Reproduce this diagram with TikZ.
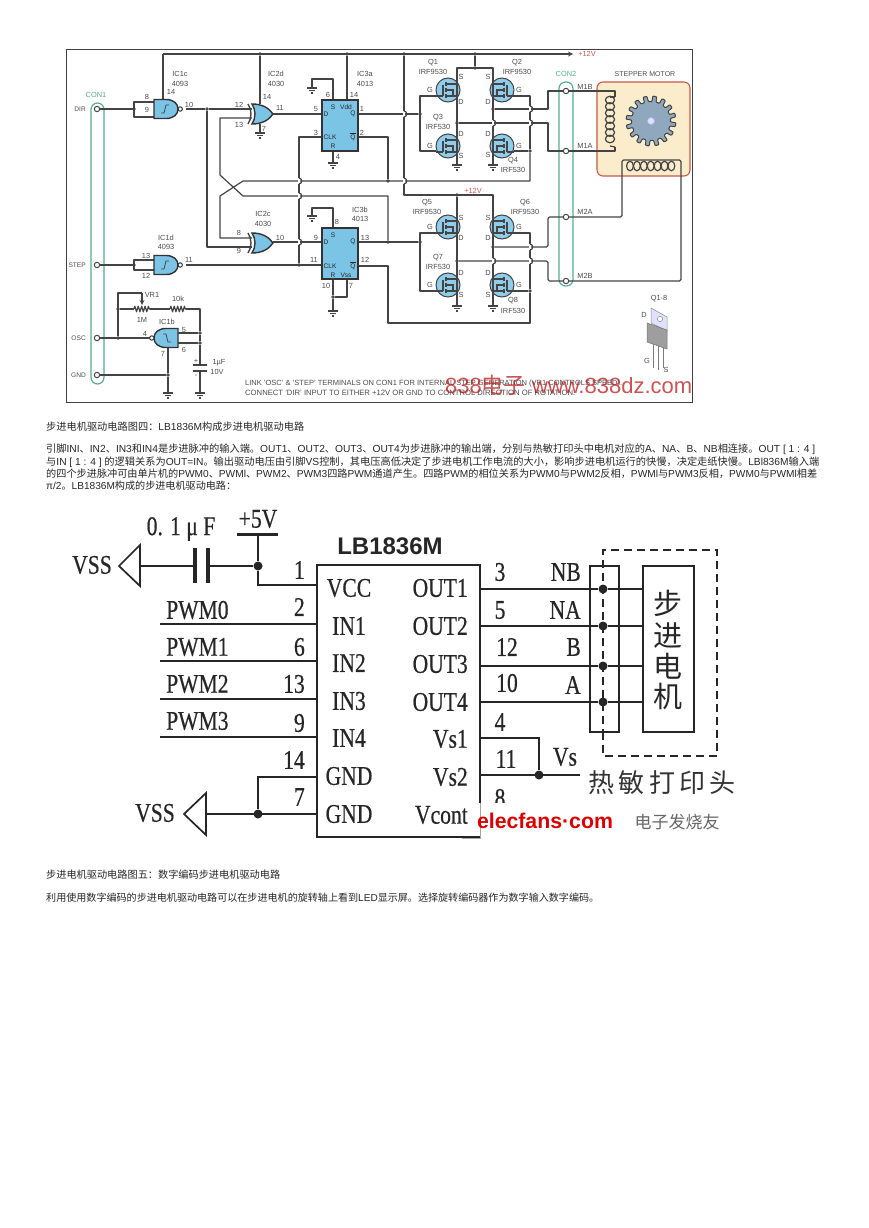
\documentclass[tikz,border=0pt]{standalone}
\usepackage{graphicx}
\usepackage{fontspec}
\setmainfont{Liberation Sans}
\newfontfamily\cjk{Noto Sans CJK SC}
\newfontfamily\icfont[FakeStretch=.8,FakeBold=.5]{Liberation Serif}
\newcommand{\zh}[1]{{\cjk #1}}
\usetikzlibrary{arrows, decorations.pathmorphing}
\definecolor{wirec}{HTML}{444444}
\definecolor{bluec}{HTML}{7CC4E6}
\definecolor{greenc}{HTML}{55AE8E}
\definecolor{redc}{HTML}{C8584C}
\tikzstyle{wire} = [draw=wirec, line width=1.2pt, line join=round]
\tikzstyle{thinw} = [draw=black!85, line width=1.3pt]
\tikzstyle{dotn} = [circle, fill=wirec, inner sep=0pt, minimum size=3.6pt]
\tikzstyle{bigdot} = [circle, fill=black!85, inner sep=0pt, minimum size=9pt]
\tikzstyle{term} = [circle, draw=wirec, fill=white, line width=1pt, inner sep=0pt, minimum size=5.4pt]
\tikzstyle{lbl} = [text=black!70, inner sep=0pt, font=\fontsize{7.4}{8}\selectfont]
\tikzstyle{inlbl} = [text=black!85, inner sep=0pt, font=\fontsize{6.6}{8}\selectfont]
\tikzstyle{icl} = [text=black!85, inner sep=0pt, font=\icfont\fontsize{27}{27}\selectfont]
\tikzstyle{parline} = [anchor=west, inner sep=0pt, text=black!85, font=\fontsize{10}{12}\selectfont]
\tikzstyle{slot} = [draw=greenc, line width=1.2pt, rounded corners=6.5pt]
\tikzstyle{chip} = [draw=black!80, fill=bluec, line width=1.4pt]
% ground symbol: name, x, y
\newcommand{\gnd}[3]{
	\coordinate (#1) at (#2,#3);
	\draw [wire] (#2-5,#3) -- (#2+5,#3) (#2-3,#3+2.5) -- (#2+3,#3+2.5) (#2-1,#3+5) -- (#2+1,#3+5);
}
% schmitt nand: x, y, direction
\newcommand{\nandg}[3]{
	\begin{scope}[shift={(#1,#2)}, xscale=#3]
		\draw [chip] (-12,-9.5) -- (0,-9.5) .. controls (8,-9.5) and (12,-5) .. (12,0) .. controls (12,5) and (8,9.5) .. (0,9.5) -- (-12,9.5) -- cycle;
		\draw [chip, fill=white, line width=1pt] (14.2,0) circle (2.2);
		\draw [wirec, line width=.8pt] (-5,4) -- (-2,4) -- (0,-4) -- (3,-4);
	\end{scope}
}
% xor gate: x, y
\newcommand{\xorg}[2]{
	\begin{scope}[shift={(#1,#2)}]
		\draw [chip] (3,-10) .. controls (13,-10) and (20,-6) .. (24,0) .. controls (20,6) and (13,10) .. (3,10) .. controls (7,4) and (7,-4) .. (3,-10) -- cycle;
		\draw [wirec, line width=1.4pt] (-1,-10) .. controls (3,-4) and (3,4) .. (-1,10);
	\end{scope}
}
% mosfet: x, y, direction
\newcommand{\mosf}[3]{
	\begin{scope}[shift={(#1,#2)}, xscale=#3]
		\draw [draw=wirec, fill=bluec!85, line width=1pt] (0,0) circle (12);
		\draw [wirec, line width=1.1pt] (-5,-5) -- (-5,6) (-12,6) -- (-5,6);
		\draw [wirec, line width=1.4pt] (-2,-8) -- (-2,-4) (-2,-2) -- (-2,2) (-2,4) -- (-2,8);
		\draw [wirec, line width=1.1pt] (-2,-6) -- (9,-6) (-2,6) -- (9,6) (-2,0) -- (5,0) -- (5,6);
	\end{scope}
}
% bump of a vertical wire over a horizontal one: x, y
\newcommand{\jump}[2]{
	\fill [white] (#1-1,#2-3) rectangle (#1+1,#2+3);
	\draw [wire] (#1,#2-3) .. controls (#1+3.5,#2-3) and (#1+3.5,#2+3) .. (#1,#2+3);
}
\begin{document}
\begin{tikzpicture}[x=1pt, y=-1pt]
	\useasboundingbox (0,0) rectangle (868,1228);
	\draw [draw=black!75, line width=1pt] (66,50) rectangle (692,402);

	% motor box and gear
	\definecolor{motorc}{HTML}{FBEDCB}
	\definecolor{gearc}{HTML}{8FA8BE}
	\node (motor) [draw=redc, fill=motorc, line width=1.1pt, rounded corners=6pt, minimum width=93pt, minimum height=94pt, inner sep=0pt] at (643.5,129) {};
	\node (motorl) [lbl, font=\fontsize{7}{8}\selectfont] at (645,74) {STEPPER MOTOR};
	\begin{scope}[shift={(651,121)}]
		\draw [draw=wirec, fill=gearc, line width=1pt, rounded corners=.8pt] (0:19.5) \foreach \a in {0,22.5,...,337.5} { -- (\a+3:19.5) -- (\a+4:25) -- (\a+13:25) -- (\a+15:19.5) -- (\a+22.5:19.5) } -- cycle;
		\draw [draw=white!70!blue, fill=blue!12, line width=.6pt] (0,0) circle (3.5);
	\end{scope}

	% connectors
	\draw [slot] (91,103) -- (91,384) -- (104,384) -- (104,103) -- cycle;
	\draw [slot] (559,82) -- (559,286) -- (573,286) -- (573,82) -- cycle;
	\node (con1) [lbl, text=greenc] at (96,95) {CON1};
	\node (con2) [lbl, text=greenc] at (566,74) {CON2};

	% mosfets
	\mosf{448}{90}{1} \mosf{502}{90}{-1} \mosf{448}{146}{1} \mosf{502}{146}{-1}
	\mosf{448}{227}{1} \mosf{502}{227}{-1} \mosf{448}{285}{1} \mosf{502}{285}{-1}

	% terminals and points
	\foreach \n/\x/\y in {rl/163/54, rr/573/54, j1/134/109, a8/154/102, a9/154/117, aout/186/109, x12/252/109, x9/252/247, xo/273/114, fd/322/114, q1o/358/114, nq1/358/137, ck1/322/137, ck1b/299/137, x13/252/118, c1/220/175, c2/243/196, x8/252/238, c3/220/196, c4/243/181, xo2/273/242, fd2/322/242, j2/134/265, b13/154/260, b12/154/270, bout/186/265, ck2/322/265, q2o/358/242, nq2/358/266, c5/388/323, m1/548/91, m2/548/151, m3/548/217, m4/548/281, cl1/615/97, cl2/615/147, cl3/622/160, cl4/681/160, jv/530/181, ju/420/96}
		\coordinate (\n) at (\x,\y);
	\foreach \n/\x/\y in {jra/260/54, jrb/347/54, jrc/404/54, jrd/475/54, j207/207/109, jg1/420/114, jq/388/181, jck/299/265, js/333/297, jq2/388/242, jg2/420/242, jt/457/195, jw/530/151, jx/530/291, jq3/493/109, jq4/457/123, jq5/493/247, jq6/457/261, jr1/118/338, jr2/118/309, jr3/200/333, jr4/200/343, jr5/168/375, jtop/475/68, jb1/134/109, jb2/134/265}
		\node (\n) [dotn] at (\x,\y) {};
	\node (tdir) [term] at (97,109) {};
	\node (tstep) [term] at (97,265) {};
	\node (tosc) [term] at (97,338) {};
	\node (tgnd) [term] at (97,375) {};
	\node (tm1b) [term] at (566,91) {};
	\node (tm1a) [term] at (566,151) {};
	\node (tm2a) [term] at (566,217) {};
	\node (tm2b) [term] at (566,281) {};

	% grounds
	\gnd{g1}{260}{133} \gnd{g2}{312}{88} \gnd{g3}{333}{163} \gnd{g4}{312}{216} \gnd{g5}{333}{311}
	\gnd{g6}{457}{165} \gnd{g7}{493}{165} \gnd{g8}{457}{306} \gnd{g9}{493}{306} \gnd{g10}{168}{393} \gnd{g11}{200}{393}

	% wires, upper part
	\draw [wire, -stealth] (rl) -- (rr);
	\draw [wire] (163,100) -- (rl);
	\draw [wire] (tdir) -- (j1) |- (a8);
	\draw [wire] (j1) |- (a9);
	\draw [wire] (aout) -- (j207) -- (x12);
	\draw [wire] (j207) |- (x9);
	\draw [wire] (xo) -- (fd);
	\draw [wire] (jra) -- (260,104);
	\draw [wire] (260,124) -- (g1);
	\draw [wire] (jrb) -- (347,100);
	\draw [wire] (333,100) |- (g2 |- 0,79) -- (g2);
	\draw [wire] (333,151) -- (g3);
	\draw [wire] (q1o) -- (jg1);
	\draw [wire] (nq1) -| (jq);
	\draw [wire] (ck1) -| (jck);
	\draw [wire] (x13) -| (c1) -- (c2) -| (jq2);
	\draw [wire] (x8) -| (c3) -- (c4) -| (jw);
	\draw [wire] (jw) -- (530,96) -- (514,96);
	\draw [wire] (xo2) -- (fd2);
	\draw [wire] (tstep) -- (j2) |- (b13);
	\draw [wire] (j2) |- (b12);
	\draw [wire] (bout) -- (ck2);
	\draw [wire] (333,228) |- (g4 |- 0,208) -- (g4);
	\draw [wire] (333,279) -- (js) -- (g5);
	\draw [wire] (347,279) |- (js);
	\draw [wire] (q2o) -- (jg2);
	\draw [wire] (nq2) -| (c5) -| (jx) -- (530,233) -- (514,233);
	\draw [wire] (jrc) -- (404,195) -- (493,195) -- (g9);
	\draw [wire] (jt) -- (g8);
	\draw [wire] (jrd) -- (jtop);
	\draw [wire] (g6) |- (493,68) -- (g7);
	\draw [wire] (436,96) -- (ju) -- (420,151) -- (436,151);
	\draw [wire] (jw) -- (514,151);
	\draw [wire] (436,233) -- (420,233) -- (420,291) -- (436,291);
	\draw [wire] (jx) -- (514,291);
	\draw [wire] (jq3) -| (m1) -- (tm1b) -| (cl1);
	\draw [wire] (jq4) -| (m2) -- (tm1a) -| (cl2);
	\draw [wire, rounded corners=1.5pt] (jq5) -| (m3) -- (tm2a) -| (cl3) -- (cl4) |- (tm2b) -- (m4) |- (jq6);
	\foreach \y in {0,...,6}
		\draw [wire] (610,100+\y*6.5) ellipse (4.6 and 3.8);
	\draw [wire] (cl1) -- (610,97);
	\draw [wire] (cl2) -- (610,146);
	\foreach \x in {0,...,6}
		\draw [wire] (630+\x*6.9,166) ellipse (3.4 and 4.8);

	% jumps
	\jump{404}{114} \jump{404}{181} \jump{299}{181} \jump{299}{196} \jump{299}{242}
	\jump{530}{109} \jump{530}{123} \jump{493}{123} \jump{530}{247} \jump{530}{261} \jump{493}{261}

	% wires, oscillator
	\draw [wire] (tosc) -- (150,338);
	\draw [wire] (jr1) |- (142,293);
	\draw [wire, -stealth] (142,293) -- (142,305);
	\draw [wire] (jr2) -- (jr1);
	\draw [wire] (jr2) -- (134,309);
	\draw [wire, decorate, decoration={zigzag, amplitude=2.8pt, segment length=3.4pt}] (134,309) -- (150,309);
	\draw [wire] (150,309) -- (170,309);
	\draw [wire, decorate, decoration={zigzag, amplitude=2.8pt, segment length=3.4pt}] (170,309) -- (186,309);
	\draw [wire] (186,309) -| (jr3) -- (jr4) -- (200,365);
	\draw [wire] (200,371) -- (g11);
	\draw [wire, line width=2.4pt] (193,365) -- (207,365) (193,371) -- (207,371);
	\draw [wire] (jr3) -- (178,333);
	\draw [wire] (jr4) -- (178,343);
	\draw [wire] (168,348) -- (jr5) -- (g10);
	\draw [wire] (tgnd) -- (jr5);

	% chips
	\nandg{166}{109}{1} \nandg{166}{265}{1} \nandg{166}{338}{-1}
	\xorg{249}{114} \xorg{249}{243}
	\node (ic3a) [chip, inner sep=0pt, minimum width=36pt, minimum height=51pt] at (340,125.5) {};
	\node (ic3b) [chip, inner sep=0pt, minimum width=36pt, minimum height=51pt] at (340,253.5) {};

	% labels
	\foreach \x/\y/\t [count=\i] in {180/74/IC1c, 180/84/4093, 171/92/14, 147/97/8, 147/110/9, 189/105/10, 166/238/IC1d, 166/247/4093, 146/256/13, 146/276/12, 189/260/11, 167/322/IC1b, 184/330/5, 184/350/6, 163/354/7, 145/334/4, 152/295/VR1, 142/320/1M, 178/299/10k, 219/363/1µF, 217/372/10V, 196/361/+, 196/376/-, 276/74/IC2d, 276/84/4030, 267/97/14, 239/105/12, 239/125/13, 280/108/11, 264/129/7, 263/214/IC2c, 263/224/4030, 239/233/8, 239/251/9, 280/238/10, 365/74/IC3a, 365/84/4013, 328/95/6, 354/95/14, 316/109/5, 316/133/3, 362/109/1, 362/133/2, 338/157/4, 360/210/IC3b, 360/219/4013, 337/222/8, 316/238/9, 314/260/11, 365/238/13, 365/260/12, 326/286/10, 351/286/7}
		\node (pl\i) [lbl] at (\x,\y) {\t};
	\foreach \x/\y/\t [count=\i] in {326/114/D, 333/107/S, 346/107/Vdd, 353/114/Q, 330/137/CLK, 353/137/{$\overline{\mbox{Q}}$}, 333/146/R, 326/242/D, 333/235/S, 353/242/Q, 330/266/CLK, 353/266/{$\overline{\mbox{Q}}$}, 333/275/R, 346/275/Vss}
		\node (il\i) [inlbl] at (\x,\y) {\t};
	\foreach \x/\y/\t [count=\i] in {433/63/Q1, 433/72/IRF9530, 517/63/Q2, 517/72/IRF9530, 438/118/Q3, 438/127/IRF530, 513/161/Q4, 513/170/IRF530, 427/203/Q5, 427/212/IRF9530, 525/203/Q6, 525/212/IRF9530, 438/258/Q7, 438/267/IRF530, 513/301/Q8, 513/311/IRF530, 430/90/G, 519/90/G, 430/146/G, 519/146/G, 430/227/G, 519/227/G, 430/285/G, 519/285/G, 461/77/S, 461/102/D, 488/77/S, 488/102/D, 461/134/D, 461/156/S, 488/134/D, 488/155/S, 461/218/S, 461/238/D, 488/218/S, 488/238/D, 461/273/D, 461/295/S, 488/273/D, 488/295/S, 585/87/M1B, 585/146/M1A, 585/212/M2A, 585/276/M2B, 659/299/Q1-8, 644/315/D, 647/361/G, 666/370/S}
		\node (ql\i) [lbl] at (\x,\y) {\t};
	\foreach \y/\t [count=\i] in {109/DIR, 265/STEP, 338/OSC, 375/GND}
		\node (tl\i) [lbl, anchor=east, font=\fontsize{6.6}{8}\selectfont] at (86,\y) {\t};
	\node (v12a) [lbl, text=redc] at (587,54) {+12V};
	\node (v12b) [lbl, text=redc] at (473,191) {+12V};

	% Q1-8 package
	\draw [draw=wirec!70, line width=1pt] (653,342) -- (653,368) (658,345) -- (658,370) (663,347) -- (663,368);
	\draw [draw=black!45, fill=blue!12, line width=.5pt] (651,308) -- (667,317) -- (667,331) -- (651,323) -- cycle;
	\draw [draw=black!45, fill=white, line width=.5pt] (660,319) circle (2.6);
	\draw [draw=black!55, fill=black!38, line width=.5pt] (647,323) -- (667,330) -- (667,349) -- (647,342) -- cycle;

	% note and mark
	\node (note1) [lbl, anchor=west] at (245,384) {\resizebox{377pt}{!}{LINK 'OSC' \& 'STEP' TERMINALS ON CON1 FOR INTERNAL STEP GENERATION (VR1 CONTROLS SPEED).}};
	\node (note2) [lbl, anchor=west] at (245,393) {\resizebox{330pt}{!}{CONNECT 'DIR' INPUT TO EITHER +12V OR GND TO CONTROL DIRECTION OF ROTATION.}};
	\node (mark1) [anchor=west, inner sep=0pt, text=red!70!black!90, opacity=.75, font=\fontsize{22}{24}\selectfont] at (445,385) {\resizebox{247pt}{!}{838\zh{电子} www.838dz.com}};

	% text
	\node (cap4) [parline] at (46,427) {\resizebox{258pt}{!}{\zh{步进电机驱动电路图四：}LB1836M\zh{构成步进电机驱动电路}}};
	\node (para1) [parline] at (46,449) {\resizebox{769pt}{!}{\zh{引脚}INI\zh{、}IN2\zh{、}IN3\zh{和}IN4\zh{是步进脉冲的输入端。}OUT1\zh{、}OUT2\zh{、}OUT3\zh{、}OUT4\zh{为步进脉冲的输出端，分别与热敏打印头中电机对应的}A\zh{、}NA\zh{、}B\zh{、}NB\zh{相连接。}OUT [ 1 : 4 ]}};
	\node (para2) [parline] at (46,462) {\resizebox{773pt}{!}{\zh{与}IN [ 1 : 4 ] \zh{的逻辑关系为}OUT=IN\zh{。输出驱动电压由引脚}VS\zh{控制，其电压高低决定了步进电机工作电流的大小，影响步进电机运行的快慢，决定走纸快慢。}LBl836M\zh{输入端}}};
	\node (para3) [parline] at (46,474) {\resizebox{771pt}{!}{\zh{的四个步进脉冲可由单片机的}PWM0\zh{、}PWMl\zh{、}PWM2\zh{、}PWM3\zh{四路}PWM\zh{通道产生。四路}PWM\zh{的相位关系为}PWM0\zh{与}PWM2\zh{反相，}PWMl\zh{与}PWM3\zh{反相，}PWM0\zh{与}PWMl\zh{相差}}};
	\node (para4) [parline] at (46,486) {\resizebox{190pt}{!}{π/2\zh{。}LB1836M\zh{构成的步进电机驱动电路：}}};
	\node (cap5) [parline] at (46,875) {\resizebox{234pt}{!}{\zh{步进电机驱动电路图五：数字编码步进电机驱动电路}}};
	\node (para5) [parline] at (46,898) {\resizebox{553pt}{!}{\zh{利用使用数字编码的步进电机驱动电路可以在步进电机的旋转轴上看到}LED\zh{显示屏。选择旋转编码器作为数字输入数字编码。}}};

	% LB1836M
	\node (ic) [draw=black!85, line width=2.6pt, inner sep=0pt, minimum width=163pt, minimum height=272pt] at (398.5,701) {};
	\node (ictitle) [inner sep=0pt, text=black!85, font=\fontsize{24}{24}\selectfont] at (390,546) {\textbf{LB1836M}};
	\foreach \x/\y/\t [count=\i] in {349/588/VCC, 349/626/IN1, 349/663/IN2, 349/701/IN3, 349/738/IN4, 349/776/GND, 349/814/GND}
		\node (lp\i) [icl] at (\x,\y) {\t};
	\foreach \y/\t [count=\i] in {588/OUT1, 626/OUT2, 664/OUT3, 702/OUT4, 739/Vs1, 777/Vs2, 815/Vcont}
		\node (rp\i) [icl, anchor=east] at (468,\y) {\t};
	\foreach \y/\t [count=\i] in {570/1, 607/2, 647/6, 684/13, 723/9, 760/14, 797/7}
		\node (ln\i) [icl, anchor=east] at (305,\y) {\t};
	\foreach \x/\y/\t [count=\i] in {500/572/3, 500/610/5, 507/647/12, 507/683/10, 500/722/4, 506/759/11, 500/798/8}
		\node (rn\i) [icl] at (\x,\y) {\t};
	\foreach \y/\t [count=\i] in {610/PWM0, 647/PWM1, 684/PWM2, 721/PWM3}
		\node (pw\i) [icl, anchor=west] at (166,\y) {\t};
	\foreach \y/\t [count=\i] in {572/NB, 610/NA, 647/B, 685/A}
		\node (nm\i) [icl, anchor=east] at (581,\y) {\t};
	\node (vsl) [icl] at (565,757) {Vs};
	\foreach \y [count=\i] in {624,661,699,737}
		\coordinate (pwm\i) at (160,\y);
	\foreach \i in {1,...,4}
		\draw [thinw] (pwm\i) -- (pwm\i -| ic.west);
	\node (jvcc) [bigdot] at (258,566) {};
	\node (jgnd) [bigdot] at (258,814) {};
	\coordinate (v5) at (258,534);
	\coordinate (vcc) at (317,585);
	\coordinate (gnd1) at (317,777);
	\coordinate (gnd2) at (317,814);
	\coordinate (tri1) at (140,566);
	\coordinate (tri2) at (206,814);
	\coordinate (capa) at (195,566);
	\coordinate (capb) at (208,566);
	\draw [thinw, line width=3pt] (237,534) -- (278,534);
	\node (v5l) [icl] at (258,519) {+5V};
	\draw [thinw] (v5) -- (jvcc) |- (vcc);
	\draw [thinw] (jvcc) -- (capb);
	\draw [thinw] (capa) -- (tri1);
	\draw [thinw, line width=3.6pt] (195,548) -- (195,583) (208,548) -- (208,583);
	\node (capl) [icl] at (181,529) {0. 1 μ F};
	\draw [thinw, line width=1.7pt] (140,545) -- (119,566) -- (140,586) -- cycle;
	\node (vss1) [icl] at (92,565) {VSS};
	\draw [thinw] (gnd1) -| (jgnd);
	\draw [thinw] (tri2) -- (gnd2);
	\draw [thinw, line width=1.7pt] (206,793) -- (184,814) -- (206,835) -- cycle;
	\node (vss2) [icl] at (155,813) {VSS};

	% right of LB1836M
	\node (conn) [thinw, minimum width=29pt, minimum height=166pt, inner sep=0pt] at (604.5,649) {};
	\node (mot2) [thinw, line width=1.7pt, minimum width=51pt, minimum height=166pt, inner sep=0pt] at (668.5,649) {};
	\foreach \y/\t [count=\i] in {603/步, 636/进, 666/电, 696/机}
		\node (mc\i) [inner sep=0pt, text=black!85, font=\cjk\fontsize{29}{30}\selectfont] at (668,\y) {\t};
	\foreach \y [count=\i] in {589,626,666,702} {
		\node (jc\i) [bigdot] at (603,\y) {};
		\draw [thinw] (480,\y) -- (jc\i) -- (643,\y);
	}
	\draw [thinw, line width=2pt, dash pattern=on 8pt off 5pt] (603,732) -- (603,756) -- (717,756) -- (717,550) -- (603,550) -- (603,732);
	\node (jvs) [bigdot] at (539,775) {};
	\coordinate (vsend) at (580,775);
	\coordinate (vs1p) at (480,738);
	\coordinate (vs2p) at (480,775);
	\draw [thinw] (vs1p) -| (jvs);
	\draw [thinw] (vs2p) -- (vsend);
	\node (head) [inner sep=0pt, text=black!80, font=\cjk\fontsize{26}{28}\selectfont] at (662,783) {热\,敏\,打\,印\,头};

	% elecfans mark
	\fill [white] (478,803) rectangle (745,836);
	\draw [draw=black!35, line width=.8pt] (480,803) -- (480,838) -- (462,838);
	\node (mark2) [inner sep=0pt, text=red!85!black, font=\fontsize{20}{22}\bfseries\selectfont] at (545,821) {\resizebox{136pt}{!}{elecfans·com}};
	\node (mark3) [inner sep=0pt, text=black!60, font=\cjk\fontsize{17}{18}\selectfont] at (677,822) {电子发烧友};
\end{tikzpicture}
\end{document}
